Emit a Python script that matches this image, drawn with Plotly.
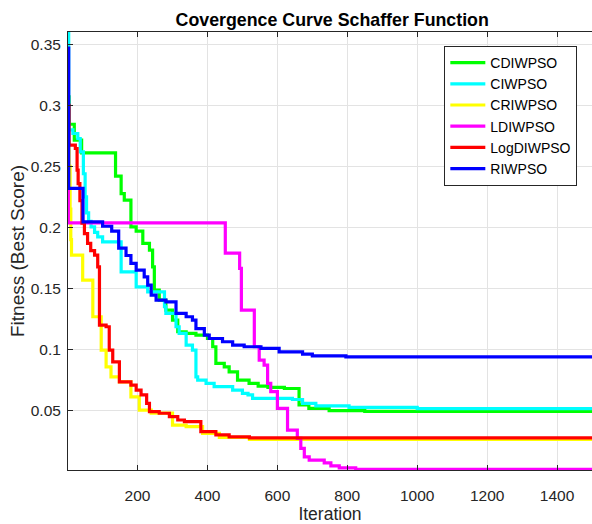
import plotly.graph_objects as go

# ---- data (iteration breakpoints, best score held until next breakpoint) ----
cdiwpso_it = [1, 4, 19, 40, 137, 153, 162, 181, 196, 215, 234, 243, 248, 262, 281, 300, 315, 339, 367, 400,
              415, 424, 448, 462, 486, 519, 545, 573, 620, 662, 690, 748, 850, 1500]
cdiwpso_val = [0.307, 0.2846, 0.2715, 0.2611, 0.242, 0.2278, 0.2224, 0.2005, 0.1970, 0.1869, 0.1814, 0.1677,
               0.1486, 0.1405, 0.1323, 0.124, 0.1145, 0.1132, 0.1118, 0.109, 0.1022, 0.0886, 0.0858, 0.0817,
               0.0749, 0.0722, 0.0700, 0.0689, 0.0680, 0.0545, 0.0517, 0.0498, 0.0492, 0.0488]

ciwpso_it = [1, 3, 15, 29, 36, 45, 50, 54, 60, 67, 77, 86, 100, 153, 196, 229, 277, 281, 310, 319, 339, 357,
             367, 372, 396, 419, 472, 500, 516, 529, 643, 672, 710, 805, 1000, 1500]
ciwpso_val = [0.359, 0.280, 0.277, 0.2729, 0.262, 0.244, 0.225, 0.212, 0.205, 0.2005, 0.196, 0.1923, 0.1882,
              0.1636, 0.1513, 0.1472, 0.135, 0.1296, 0.1186, 0.1132, 0.1036, 0.0995, 0.0776, 0.0749, 0.0722,
              0.0695, 0.0667, 0.064, 0.0627, 0.0599, 0.0590, 0.0558, 0.0538, 0.0525, 0.0515, 0.0508]

criwpso_it = [1, 4, 7, 9, 11, 43, 72, 96, 110, 124, 148, 181, 205, 239, 300, 339, 386, 434, 520, 1500]
criwpso_val = [0.27, 0.25, 0.215, 0.19, 0.1773, 0.1568, 0.1268, 0.0995, 0.0858, 0.0776, 0.0735, 0.0612,
               0.0503, 0.0478, 0.0380, 0.0367, 0.0313, 0.0280, 0.0262, 0.0253]

ldiwpso_it = [1, 2, 451, 492, 497, 534, 548, 562, 572, 581, 600, 629, 657, 667, 677, 691, 734, 753, 777, 824, 1500]
ldiwpso_val = [0.285, 0.2038, 0.179, 0.1664, 0.1323, 0.1022, 0.0913, 0.0872, 0.0722, 0.0654, 0.0517, 0.0339,
               0.0271, 0.0189, 0.012, 0.0093, 0.0071, 0.0046, 0.003, 0.0017, 0.0012]

logdiwpso_it = [1, 4, 22, 27, 30, 35, 41, 48, 57, 66, 77, 86, 91, 110, 119, 129, 148, 181, 196, 210, 226, 234,
                262, 291, 315, 334, 381, 424, 462, 520, 1500]
logdiwpso_val = [0.300, 0.2674, 0.2647, 0.247, 0.236, 0.222, 0.2035, 0.195, 0.187, 0.181, 0.1773, 0.1677,
                 0.120, 0.1186, 0.0995, 0.0899, 0.0735, 0.0708, 0.0667, 0.0627, 0.0558, 0.049, 0.0477, 0.0449,
                 0.0422, 0.0408, 0.0326, 0.0300, 0.0283, 0.0276, 0.0272]

riwpso_it = [1, 3, 44, 100, 126, 146, 167, 181, 196, 219, 229, 239, 253, 281, 310, 339, 357, 367, 391, 405,
             443, 472, 505, 553, 605, 672, 700, 796, 1500]
riwpso_val = [0.347, 0.232, 0.2046, 0.201, 0.197, 0.183, 0.177, 0.1705, 0.165, 0.1595, 0.1527, 0.1445, 0.1405,
              0.139, 0.1295, 0.1268, 0.124, 0.117, 0.1118, 0.109, 0.1063, 0.1036, 0.1022, 0.1009, 0.0981,
              0.0962, 0.0948, 0.0940, 0.0938]

series_names = ["CDIWPSO", "CIWPSO", "CRIWPSO", "LDIWPSO", "LogDIWPSO", "RIWPSO"]
series_colors = ["#00FF00", "#00FFFF", "#FFFF00", "#FF00FF", "#FF0000", "#0000FF"]

x_ticks = [200, 400, 600, 800, 1000, 1200, 1400]
y_ticks = [0.05, 0.1, 0.15, 0.2, 0.25, 0.3, 0.35]
y_tick_text = ["0.05", "0.1", "0.15", "0.2", "0.25", "0.3", "0.35"]

series_data = [
    (cdiwpso_it, cdiwpso_val),
    (ciwpso_it, ciwpso_val),
    (criwpso_it, criwpso_val),
    (ldiwpso_it, ldiwpso_val),
    (logdiwpso_it, logdiwpso_val),
    (riwpso_it, riwpso_val),
]

FONT = "Liberation Sans, Arial, Helvetica, sans-serif"
AX = "#262626"

fig = go.Figure()
for name, color, (xs, ys) in zip(series_names, series_colors, series_data):
    fig.add_trace(go.Scatter(x=xs, y=ys, mode="lines", name=name,
                             line=dict(color=color, width=3.2, shape="hv")))

fig.update_layout(
    width=592, height=524,
    margin=dict(l=68, r=0, t=32, b=54),
    paper_bgcolor="white", plot_bgcolor="white",
    font=dict(family=FONT, color=AX),
    title=dict(text="<b>Covergence Curve Schaffer Function</b>", x=0.5612, xanchor="center",
               y=1 - 20 / 524, yanchor="middle", font=dict(size=17.8, color="black", family=FONT)),
    showlegend=True,
    legend=dict(x=0.972, xanchor="right", y=0.968, yanchor="top",
                bgcolor="white", bordercolor=AX, borderwidth=1,
                font=dict(size=14, color="black", family=FONT),
                itemwidth=35, tracegroupgap=0),
)

fig.update_xaxes(
    range=[1, 1500], tickvals=x_ticks, ticks="inside", ticklen=5, tickcolor=AX,
    showline=True, linecolor=AX, linewidth=1, mirror="ticks",
    showgrid=True, gridcolor="#e3e3e3", gridwidth=1, zeroline=False,
    tickfont=dict(size=15.5, color=AX), ticklabelstandoff=11,
    title=dict(text="Iteration", font=dict(size=17.5, color=AX), standoff=6),
)
fig.update_yaxes(
    range=[0.0012, 0.3602], tickvals=y_ticks, ticktext=y_tick_text, ticks="inside", ticklen=5, tickcolor=AX,
    showline=True, linecolor=AX, linewidth=1, mirror=False,
    showgrid=True, gridcolor="#e3e3e3", gridwidth=1, zeroline=False,
    tickfont=dict(size=15.5, color=AX), ticklabelstandoff=3,
    title=dict(text="Fitness (Best Score)", font=dict(size=19, color=AX), standoff=1),
)

fig.write_html("out.html", config={"displayModeBar": False},
               post_script="document.body.style.margin='0px';")
